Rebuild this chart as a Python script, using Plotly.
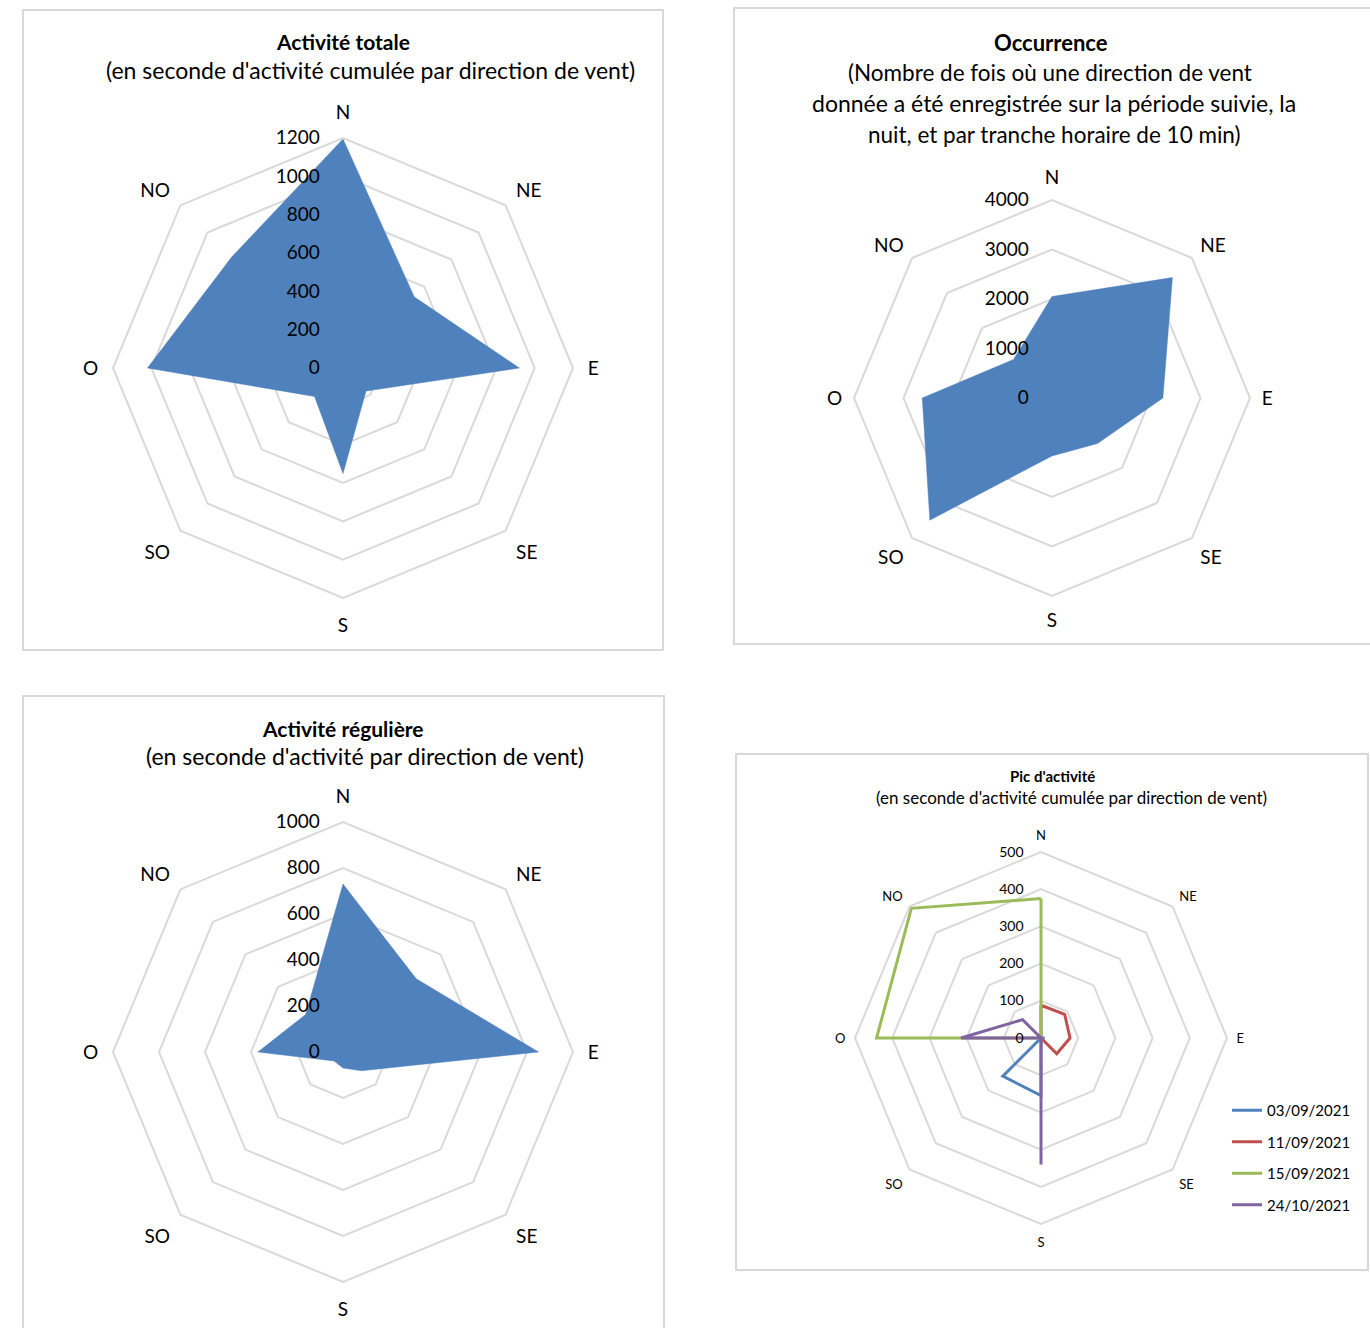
import plotly.graph_objects as go

W, H = 1370, 1328

directions = ["N", "NE", "E", "SE", "S", "SO", "O", "NO"]

activite_totale = [1195, 525, 920, 170, 550, 210, 1020, 820]
occurrence = [2050, 3440, 2240, 1300, 1170, 3490, 2620, 1100]
activite_reguliere = [730, 450, 850, 115, 70, 55, 370, 230]

pic_dates = ["03/09/2021", "11/09/2021", "15/09/2021", "24/10/2021"]
pic_0309 = [0, 0, 10, 0, 155, 145, 0, 0]
pic_1109 = [88, 90, 78, 60, 0, 0, 0, 0]
pic_1509 = [375, 0, 0, 0, 0, 0, 442, 493]
pic_2410 = [0, 0, 0, 0, 340, 0, 215, 70]
pic_series = [pic_0309, pic_1109, pic_1509, pic_2410]
pic_colors = ["#4F81BD", "#C0504D", "#9BBB59", "#8064A2"]

ticks_totale = [0, 200, 400, 600, 800, 1000, 1200]
ticks_occ = [0, 1000, 2000, 3000, 4000]
ticks_reg = [0, 200, 400, 600, 800, 1000]
ticks_pic = [0, 100, 200, 300, 400, 500]

FONT = "Lato"
GRID = "#D9D9D9"
BLUE = "#4F81BD"


def closed(v):
    return list(v) + [v[0]]


def px_x(a, b):
    return [a / W, b / W]


def px_y(top, bottom):
    return [1 - bottom / H, 1 - top / H]


fig = go.Figure()

fig.add_trace(go.Scatterpolar(
    r=closed(activite_totale), theta=closed(directions), fill="toself",
    fillcolor=BLUE, line=dict(color=BLUE, width=0.5), mode="lines",
    showlegend=False, subplot="polar"))
fig.add_trace(go.Scatterpolar(
    r=closed(occurrence), theta=closed(directions), fill="toself",
    fillcolor=BLUE, line=dict(color=BLUE, width=0.5), mode="lines",
    showlegend=False, subplot="polar2"))
fig.add_trace(go.Scatterpolar(
    r=closed(activite_reguliere), theta=closed(directions), fill="toself",
    fillcolor=BLUE, line=dict(color=BLUE, width=0.5), mode="lines",
    showlegend=False, subplot="polar3"))
for name, vals, col in zip(pic_dates, pic_series, pic_colors):
    fig.add_trace(go.Scatterpolar(
        r=closed(vals), theta=closed(directions), mode="lines",
        line=dict(color=col, width=3), name=name, legendgroup=name,
        subplot="polar4"))


def polar_cfg(cx, cy, rad, rng, tickvals, fs, afs, standoff, apad):
    return dict(
        domain=dict(x=px_x(cx - rad, cx + rad), y=px_y(cy - rad, cy + rad)),
        gridshape="linear",
        bgcolor="white",
        radialaxis=dict(
            range=rng, tickvals=tickvals, angle=90, side="counterclockwise",
            tickangle=90, showline=False, showgrid=True, gridcolor=GRID,
            gridwidth=2, ticks="outside", ticklen=standoff,
            tickcolor="rgba(0,0,0,0)",
            tickfont=dict(family=FONT, size=fs, color="#000000"),
            layer="above traces"),
        angularaxis=dict(
            direction="clockwise", rotation=90, showgrid=False,
            showline=True, linecolor=GRID, linewidth=2,
            ticks="outside", ticklen=apad, tickcolor="rgba(0,0,0,0)",
            tickfont=dict(family=FONT, size=afs, color="#000000"),
            categoryorder="array", categoryarray=directions),
    )


fig.update_layout(
    width=W, height=H,
    margin=dict(l=0, r=0, t=0, b=0),
    paper_bgcolor="white",
    plot_bgcolor="white",
    font=dict(family=FONT, color="#000000"),
    polar=polar_cfg(343, 368, 230, [0, 1200], ticks_totale, 19, 19, 16, 10),
    polar2=polar_cfg(1052, 398, 198, [0, 4000], ticks_occ, 19, 19, 16, 7),
    polar3=polar_cfg(343, 1052, 230, [0, 1000], ticks_reg, 19, 19, 16, 10),
    polar4=polar_cfg(1041, 1038, 186, [0, 500], ticks_pic, 14, 13, 12, 6),
    legend=dict(
        x=1227 / W, y=1 - 1094 / H, xanchor="left", yanchor="top",
        font=dict(family=FONT, size=15, color="#000000"),
        tracegroupgap=9, bgcolor="rgba(0,0,0,0)", itemwidth=30),
    showlegend=True,
)

# chart frames
frames = [(23, 10, 663, 650), (734, 8, 1374, 644), (23, 696, 664, 1340), (736, 754, 1368, 1270)]
for x0, y0, x1, y1 in frames:
    fig.add_shape(type="rect", xref="paper", yref="paper",
                  x0=x0 / W, x1=x1 / W, y0=1 - y1 / H, y1=1 - y0 / H,
                  line=dict(color=GRID, width=2), fillcolor="rgba(0,0,0,0)",
                  layer="below")

titles = [
    (343, 41, "<b>Activité totale</b>", 21),
    (370, 70, "(en seconde d'activité cumulée par direction de vent)", 23),
    (1051, 43, "<b>Occurrence</b>", 22),
    (1050, 72, "(Nombre de fois où une direction de vent", 22.5),
    (1054, 103, "donnée a été enregistrée sur la période suivie, la", 23),
    (1054, 134, "nuit, et par tranche horaire de 10 min)", 22.5),
    (343, 728, "<b>Activité régulière</b>", 21),
    (365, 756, "(en seconde d'activité par direction de vent)", 23),
    (1052, 776, "<b>Pic d'activité</b>", 15),
    (1071, 797, "(en seconde d'activité cumulée par direction de vent)", 17),
]
for x, y, t, fs in titles:
    fig.add_annotation(x=x / W, y=1 - y / H, xref="paper", yref="paper",
                       text=t, showarrow=False, xanchor="center", yanchor="middle",
                       font=dict(family=FONT, size=fs, color="#000000"))

fig.write_html("out.html", config={"displayModeBar": False},
               post_script="document.body.style.margin='0';")
